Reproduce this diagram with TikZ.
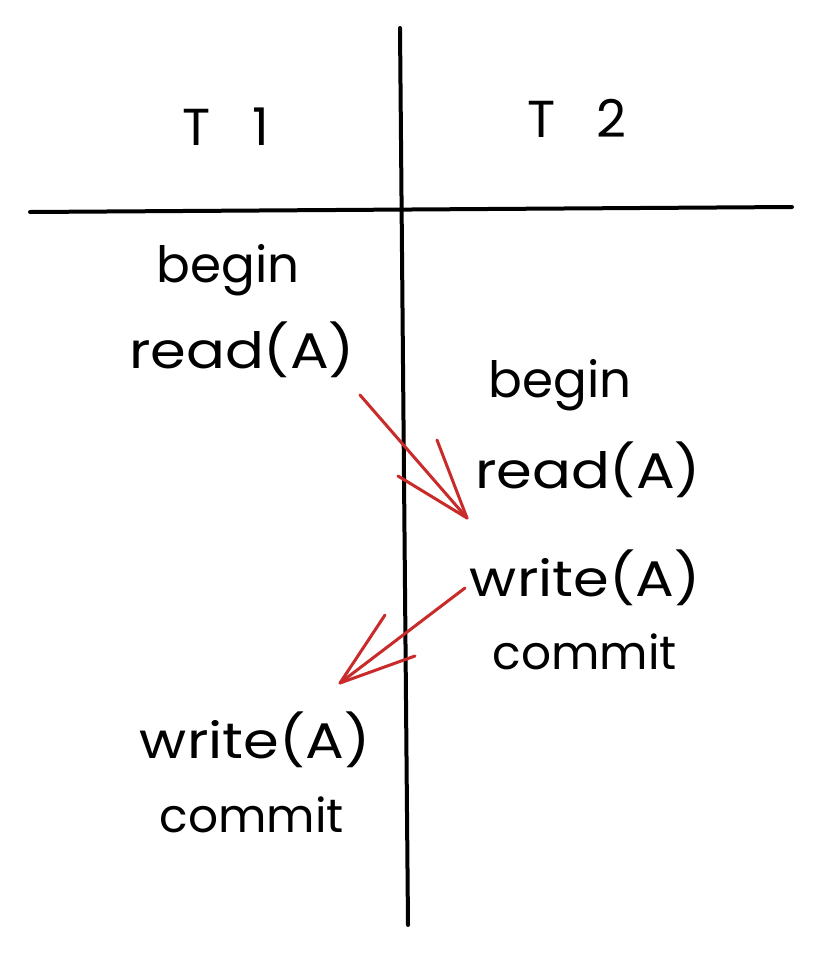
\documentclass[tikz,border=0pt]{standalone}
\usepackage{fontspec}
\setmainfont{Poppins}
\newcommand{\wide}[1]{\scalebox{1.15}[1]{#1}}
\begin{document}
\begin{tikzpicture}[x=1pt,y=-1pt,
  lbl/.style={font=\fontsize{50}{54}\selectfont, inner sep=0pt, text=black},
  lblsm/.style={font=\fontsize{47}{51}\selectfont, inner sep=0pt, text=black},
  hdr/.style={font=\fontsize{52}{56}\selectfont, inner sep=0pt, text=black},
  rule/.style={line width=4pt, line cap=round, black},
  redarr/.style={line width=3pt, line cap=round, color=arrred}]
\definecolor{arrred}{RGB}{201,42,42}
\useasboundingbox[fill=white] (0,0) rectangle (824,959);
% table lines
\coordinate (vtop) at (400,28);
\coordinate (vbot) at (408,925);
\coordinate (hl) at (30,212);
\coordinate (hr) at (792,207);
\draw[rule] (vtop) -- (vbot);
\draw[rule] (hl) -- (hr);
% headers
\node[hdr] (t1) at (226,127) {T\hspace{0.8em}1};
\node[hdr] (t2) at (577,118) {T\hspace{0.8em}2};
% left column
\node[lbl] (b1) at (228,270) {begin};
\node[lbl] (r1) at (242,350) {\wide{read(A)}};
\node[lbl] (w1) at (255,740) {\wide{write(A)}};
\node[lblsm] (c1) at (252,815) {commit};
% right column
\node[lbl] (b2) at (560,385) {begin};
\node[lbl] (r2) at (588,470) {\wide{read(A)}};
\node[lbl] (w2) at (585,578) {\wide{write(A)}};
\node[lblsm] (c2) at (585,652) {commit};
% arrow 1
\coordinate (a1s) at (360,395);
\coordinate (a1e) at (467,518);
\coordinate (a1h1) at (437,440);
\coordinate (a1h2) at (398,476);
\draw[redarr] (a1s) -- (a1e);
\draw[redarr] (a1h1) -- (a1e);
\draw[redarr] (a1h2) -- (a1e);
% arrow 2
\coordinate (a2s) at (465,588);
\coordinate (a2e) at (340,683);
\coordinate (a2h1) at (385,615);
\coordinate (a2h2) at (415,656);
\draw[redarr] (a2s) -- (a2e);
\draw[redarr] (a2h1) -- (a2e);
\draw[redarr] (a2h2) -- (a2e);
\end{tikzpicture}
\end{document}
